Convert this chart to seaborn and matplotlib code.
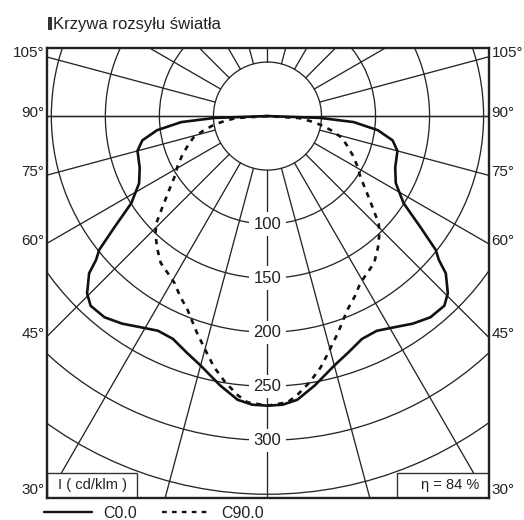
import numpy as np
import pandas as pd
import seaborn as sns
import matplotlib.pyplot as plt
from matplotlib.patches import Circle, Rectangle
from matplotlib.lines import Line2D

# half curves (angle from nadir in degrees, intensity in cd/klm), mirrored below
angles_c0 = [0, 3, 6, 10, 15, 19, 23, 27, 31, 35, 39, 43, 45.5, 48.6, 50, 51.5,
             54, 57.4, 62.4, 68, 75, 79, 82.7, 86, 88, 90]
intensity_c0 = [268, 267.5, 264, 253, 239, 231, 224, 223, 228, 234.5, 239.6, 240,
                234, 220, 207, 199, 175, 149.5, 134, 127.5, 124.5, 118, 103, 80, 49, 0]
angles_c90 = [0, 4, 6, 9, 12, 14, 18, 22.4, 26, 29, 32.5, 36, 40, 43.7, 46, 49,
              53, 56.7, 61, 65.5, 70, 74, 77.5, 80, 82.6, 86.4, 90]
intensity_c90 = [268, 265.5, 260, 249.5, 237.5, 228, 211, 194, 185, 177, 172, 168,
                 159, 150, 143, 129, 114, 103, 95, 86.5, 78, 71, 60, 52, 43, 29.6, 0]

ring_labels = [100, 150, 200, 250, 300]
angle_labels = [105, 90, 75, 60, 45, 30]
title = 'Krzywa rozsyłu światła'
unit_text = 'I ( cd/klm )'
eta_text = 'η = 84 %'


def to_xy(angles, values, name):
    a = np.array(angles, dtype=float)
    v = np.array(values, dtype=float)
    a_full = np.concatenate([-a[::-1], a[1:]])
    v_full = np.concatenate([v[::-1], v[1:]])
    t = np.radians(a_full)
    return pd.DataFrame({'x': v_full * np.sin(t), 'y': -v_full * np.cos(t), 'curve': name})


df = pd.concat([to_xy(angles_c0, intensity_c0, 'C0.0'),
                to_xy(angles_c90, intensity_c90, 'C90.0')], ignore_index=True)

sns.set_style('white')
plt.rcParams['font.family'] = ['Liberation Sans', 'DejaVu Sans']

W, H = 524, 520
fig = plt.figure(figsize=(W / 100, H / 100), dpi=100)
ax = fig.add_axes([47 / W, (H - 497.5) / H, 442 / W, 449.5 / H])
xlim = (-204, 205)
ylim = (-353, 63)
ax.set_xlim(*xlim)
ax.set_ylim(*ylim)

grid_col = '#262626'
# rings
for r in range(50, 501, 50):
    ax.add_patch(Circle((0, 0), r, fill=False, lw=0.95, ec=grid_col, zorder=1))
# spokes every 15 degrees, starting on the 50 ring
for deg in range(0, 360, 15):
    t = np.radians(deg)
    ax.plot([50 * np.sin(t), 700 * np.sin(t)], [-50 * np.cos(t), -700 * np.cos(t)],
            color=grid_col, lw=0.95, zorder=1)
ax.axhline(0, color=grid_col, lw=0.95, zorder=1)

sns.lineplot(data=df, x='x', y='y', hue='curve', style='curve',
             palette=['#111111', '#111111'],
             dashes={'C0.0': '', 'C90.0': (2, 2.2)},
             sort=False, estimator=None, linewidth=1.9, ax=ax, zorder=3,
             solid_joinstyle='round', dash_joinstyle='round')
ax.get_legend().remove()

for r in ring_labels:
    ax.text(0, -r, str(r), ha='center', va='center', fontsize=12, color='#222222',
            bbox=dict(boxstyle='square,pad=0.25', fc='white', ec='none'), zorder=4)

for a in angle_labels:
    if a == 30:
        y = ylim[0] + 7
    else:
        t = np.radians(a)
        y = -xlim[1] * np.cos(t) / np.sin(t) + 3
    ax.text(-0.006, y, f'{a}°', transform=ax.get_yaxis_transform(), ha='right',
            va='center', fontsize=11, color='#222222', clip_on=False)
    ax.text(1.006, y, f'{a}°', transform=ax.get_yaxis_transform(), ha='left',
            va='center', fontsize=11, color='#222222', clip_on=False)

# info boxes
bw, bh = 90 / 442, 25 / 449.5
ax.add_patch(Rectangle((0, 0), bw, bh, transform=ax.transAxes, fc='white',
                       ec='#333333', lw=1.0, zorder=5))
ax.text(bw / 2, bh / 2, unit_text, transform=ax.transAxes, ha='center', va='center',
        fontsize=10.5, color='#222222', zorder=6)
ax.add_patch(Rectangle((1 - 92 / 442, 0), 92 / 442, bh, transform=ax.transAxes,
                       fc='white', ec='#333333', lw=1.0, zorder=5))
ax.text(1 - 10 / 442, bh / 2, eta_text, transform=ax.transAxes, ha='right',
        va='center', fontsize=10.5, color='#222222', zorder=6)

ax.set_xlabel('')
ax.set_ylabel('')
ax.set_xticks([])
ax.set_yticks([])
for s in ax.spines.values():
    s.set_linewidth(1.7)
    s.set_color('#222222')
    s.set_zorder(7)

# title with small bar marker
fig.patches.append(Rectangle((48 / W, 1 - 30 / H), 4 / W, 13 / H, transform=fig.transFigure,
                             fc='#333333', ec='none'))
fig.text(53 / W, 1 - 29 / H, title, ha='left', va='baseline', fontsize=12, color='#222222')

handles = [Line2D([], [], color='#111111', lw=1.7, linestyle='-'),
           Line2D([], [], color='#111111', lw=1.7, linestyle=(0, (2, 2.2)))]
fig.legend(handles, ['C0.0', 'C90.0'], loc='center left',
           bbox_to_anchor=(44 / W, 1 - 513 / H), ncol=2, frameon=False,
           fontsize=11.5, handlelength=3.0, handletextpad=0.7, columnspacing=1.6,
           borderpad=0, borderaxespad=0, labelcolor='#222222')

fig.savefig('out.png', dpi=100)
